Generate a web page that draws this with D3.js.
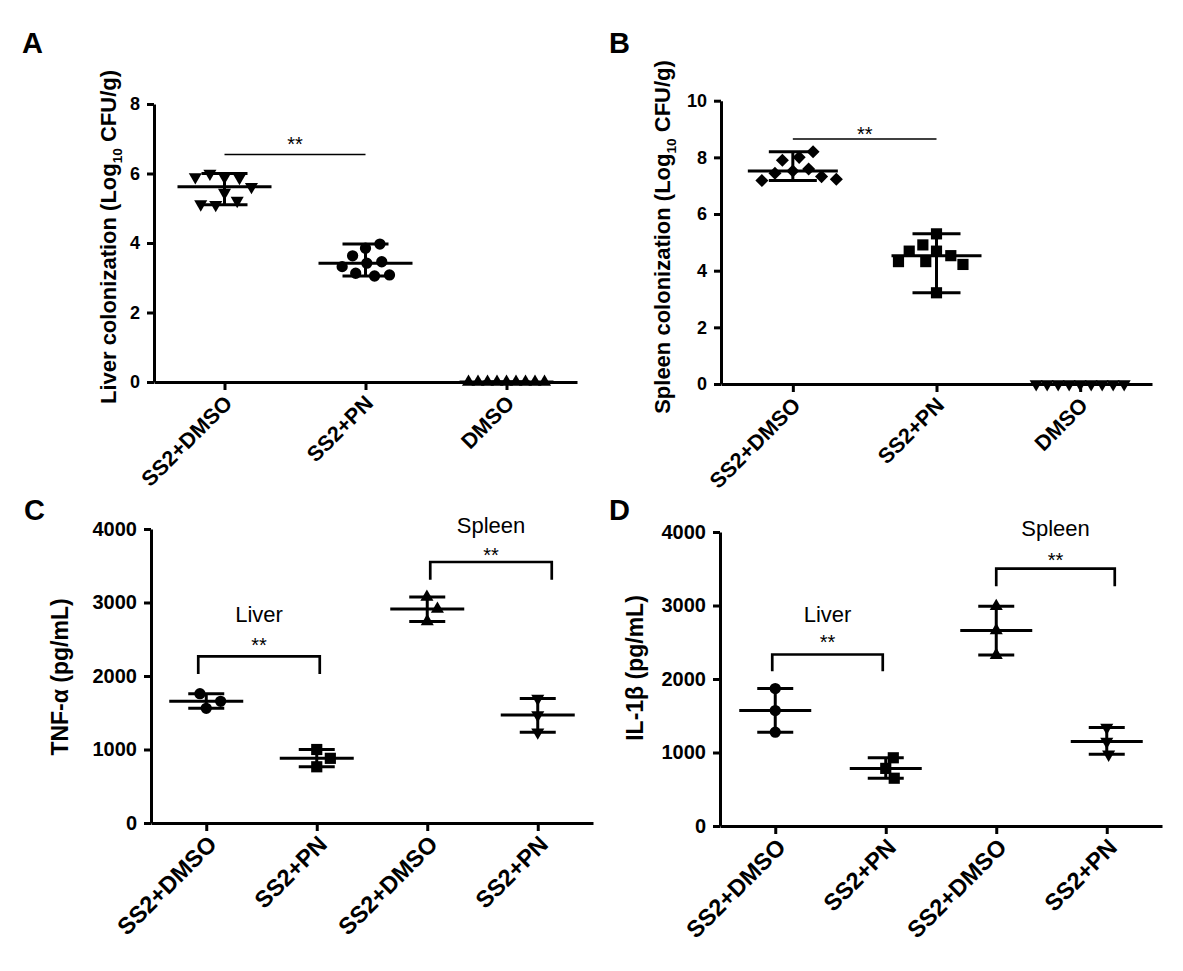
<!DOCTYPE html>
<html>
<head>
<meta charset="utf-8">
<script src="https://cdn.jsdelivr.net/npm/d3@7"></script>
<style>
  body { margin: 0; background: #fff; }
  text { font-family: Arial, "Liberation Sans", sans-serif; fill: #000; }
</style>
</head>
<body>
<svg id="fig" width="1183" height="971"></svg>
<script>
// ---- values ----
var colonGroups = ["SS2+DMSO", "SS2+PN", "DMSO"];
var liverCFU = [
    [5.90, 5.88, 6.00, 5.90, 5.62, 5.45, 5.22, 5.10, 5.12],
    [3.85, 3.97, 3.63, 3.42, 3.46, 3.32, 3.13, 3.05, 3.08],
    [0, 0, 0, 0, 0, 0, 0, 0, 0]
];
var spleenCFU = [
    [7.52, 8.00, 7.90, 8.20, 7.59, 7.44, 7.32, 7.18, 7.23],
    [4.69, 4.53, 4.91, 5.30, 4.69, 4.32, 4.22, 4.32, 3.22],
    [0, 0, 0, 0, 0, 0, 0, 0, 0]
];
var cytoGroups = ["SS2+DMSO", "SS2+PN", "SS2+DMSO", "SS2+PN"];
var tnfAlpha = [
    [1560, 1655, 1760],
    [765, 880, 1000],
    [2743, 2911, 3075],
    [1235, 1470, 1695]
];
var il1Beta = [
    [1277, 1570, 1870],
    [784, 650, 928],
    [2325, 2660, 2990],
    [1150, 975, 1340]
];
var liverTicks = [0, 2, 4, 6, 8];
var spleenTicks = [0, 2, 4, 6, 8, 10];
var cytoTicks = [0, 1000, 2000, 3000, 4000];

var svg = d3.select("#fig");

// marker shapes
var sym = {
    circle: { type: d3.symbolCircle, size: 100, rot: 0 },
    square: { type: d3.symbolSquare, size: 125, rot: 0 },
    diamond: { type: d3.symbolSquare, size: 85, rot: 45 },
    up: { type: d3.symbolTriangle, size: 74, rot: 0 },
    down: { type: d3.symbolTriangle, size: 74, rot: 180 }
};

// simple beeswarm: put each point as close to the centre as it can go
function swarm(vals, y, dist) {
    var placed = [];
    return vals.map(function(v) {
        var py = y(v);
        var cands = [0];
        placed.forEach(function(p) {
            var dy = Math.abs(p.y - py);
            if (dy < dist) {
                var dx = Math.sqrt(dist * dist - dy * dy);
                cands.push(p.x + dx, p.x - dx);
            }
        });
        cands.sort(function(a, b) { return Math.abs(a) - Math.abs(b) || b - a; });
        var best = cands.find(function(cx) {
            return placed.every(function(p) {
                return Math.hypot(p.x - cx, p.y - py) >= dist - 0.01;
            });
        });
        var pt = { x: best, y: py };
        placed.push(pt);
        return pt;
    });
}

function drawPanel(cfg) {
    var g = svg.append("g");

    var x = d3.scalePoint()
        .domain(d3.range(cfg.groups.length))
        .range([cfg.x0, cfg.x1])
        .padding(0.5);
    var y = d3.scaleLinear()
        .domain([0, cfg.yMax])
        .range([cfg.y0, cfg.yTop]);

    // Y axis
    var yAxis = g.append("g")
        .attr("transform", `translate(${cfg.x0},0)`)
        .call(d3.axisLeft(y).tickValues(cfg.ticks).tickFormat(d3.format("d"))
            .tickSize(7).tickSizeOuter(0).tickPadding(7));

    // X axis
    var xAxis = g.append("g")
        .attr("transform", `translate(0,${cfg.y0})`)
        .call(d3.axisBottom(x).tickSize(8).tickSizeOuter(0).tickFormat(function(i) { return cfg.groups[i]; }));

    [yAxis, xAxis].forEach(function(ax) {
        ax.select(".domain").attr("stroke", "#000").attr("stroke-width", 3);
        ax.selectAll(".tick line").attr("stroke", "#000").attr("stroke-width", 3);
    });
    yAxis.selectAll("text")
        .style("font-size", cfg.tickFont + "px")
        .style("font-weight", "bold");
    xAxis.selectAll("text")
        .attr("text-anchor", "end")
        .attr("transform", "rotate(-45)")
        .attr("x", cfg.labDx)
        .attr("y", cfg.labDy)
        .attr("dy", "0")
        .style("font-size", cfg.catFont + "px")
        .style("font-weight", "bold");

    // axis title
    var title = g.append("text")
        .attr("transform", `translate(${cfg.titleX},${cfg.titleY}) rotate(-90)`)
        .attr("text-anchor", "middle")
        .attr("dy", "0.35em")
        .style("font-size", cfg.titleFont + "px")
        .style("font-weight", "bold");
    cfg.title.forEach(function(part) {
        var t = title.append("tspan").text(part.t);
        if (part.sub) t.attr("dy", 6).style("font-size", (cfg.titleFont * 0.62) + "px");
        if (part.after) t.attr("dy", -6);
    });

    // panel letter
    g.append("text")
        .attr("x", cfg.letterX)
        .attr("y", cfg.letterY)
        .text(cfg.letter)
        .style("font-size", "29px")
        .style("font-weight", "bold");

    // points, median and range
    cfg.data.forEach(function(vals, i) {
        var cx = x(i);
        var pts = swarm(vals, y, cfg.dist[i]);
        var s = sym[cfg.shapes[i]];
        g.selectAll(null)
            .data(pts)
            .enter()
            .append("path")
            .attr("d", d3.symbol().type(s.type).size(s.size))
            .attr("transform", d => `translate(${cx + d.x},${d.y}) rotate(${s.rot})`)
            .attr("fill", "#000");

        var med = d3.median(vals);
        var ext = d3.extent(vals);
        var lines = [
            [cx - cfg.medW, y(med), cx + cfg.medW, y(med)],
            [cx - cfg.capW, y(ext[0]), cx + cfg.capW, y(ext[0])],
            [cx - cfg.capW, y(ext[1]), cx + cfg.capW, y(ext[1])],
            [cx, y(ext[0]), cx, y(ext[1])]
        ];
        g.selectAll(null)
            .data(lines)
            .enter()
            .append("line")
            .attr("x1", d => d[0]).attr("y1", d => d[1])
            .attr("x2", d => d[2]).attr("y2", d => d[3])
            .attr("stroke", "#000")
            .attr("stroke-width", 3);
    });

    // significance marks
    cfg.sig.forEach(function(s) {
        var xa = x(s.from) + (s.padL || 0), xb = x(s.to) + (s.padR || 0);
        var yt = y(s.top);
        if (s.legs != null) {
            var yl = y(s.legs);
            g.append("path")
                .attr("d", `M${xa},${yl}V${yt}H${xb}V${yl}`)
                .attr("fill", "none")
                .attr("stroke", "#000")
                .attr("stroke-width", 2.7);
        } else {
            g.append("line")
                .attr("x1", xa).attr("x2", xb)
                .attr("y1", yt).attr("y2", yt)
                .attr("stroke", "#000")
                .attr("stroke-width", 1.5);
        }
        g.append("text")
            .attr("x", (xa + xb) / 2)
            .attr("y", yt + s.starDy)
            .attr("text-anchor", "middle")
            .style("font-size", "20px")
            .text("**");
        if (s.label) {
            g.append("text")
                .attr("x", (xa + xb) / 2)
                .attr("y", yt + s.labelDy)
                .attr("text-anchor", "middle")
                .style("font-size", "22px")
                .text(s.label);
        }
    });
}

drawPanel({
    letter: "A", letterX: 22, letterY: 53,
    groups: colonGroups, data: liverCFU, shapes: ["down", "circle", "up"],
    x0: 154, x1: 577, y0: 382, yTop: 104, yMax: 8, ticks: liverTicks,
    tickFont: 18, catFont: 21.5, labDx: -10, labDy: 22,
    title: [{ t: "Liver colonization (Log" }, { t: "10", sub: true }, { t: " CFU/g)", after: true }],
    titleX: 108, titleY: 237, titleFont: 22,
    medW: 47, capW: 23, dist: [15, 15, 9.5],
    sig: [{ from: 0, to: 1, top: 6.55, starDy: -3 }]
});

drawPanel({
    letter: "B", letterX: 609, letterY: 53,
    groups: colonGroups, data: spleenCFU, shapes: ["diamond", "square", "down"],
    x0: 721, x1: 1152, y0: 384, yTop: 100.7, yMax: 10, ticks: spleenTicks,
    tickFont: 18, catFont: 21.5, labDx: -10, labDy: 22,
    title: [{ t: "Spleen colonization (Log" }, { t: "10", sub: true }, { t: " CFU/g)", after: true }],
    titleX: 662, titleY: 237, titleFont: 22,
    medW: 45, capW: 24, dist: [15, 15, 11],
    sig: [{ from: 0, to: 1, top: 8.65, starDy: 2 }]
});

drawPanel({
    letter: "C", letterX: 24, letterY: 520,
    groups: cytoGroups, data: tnfAlpha, shapes: ["circle", "square", "up", "down"],
    x0: 151, x1: 593, y0: 823, yTop: 529, yMax: 4000, ticks: cytoTicks,
    tickFont: 20, catFont: 23.5, labDx: -8, labDy: 24,
    title: [{ t: "TNF-α (pg/mL)" }],
    titleX: 60, titleY: 677, titleFont: 23,
    medW: 37, capW: 18, dist: [16, 16, 16, 16],
    sig: [
        { from: 0, to: 1, top: 2267, legs: 2027, padL: -8, padR: 3, starDy: -4, label: "Liver", labelDy: -34 },
        { from: 2, to: 3, top: 3551, legs: 3310, padL: 3, padR: 14, starDy: 0, label: "Spleen", labelDy: -29 }
    ]
});

drawPanel({
    letter: "D", letterX: 609, letterY: 520,
    groups: cytoGroups, data: il1Beta, shapes: ["circle", "square", "up", "down"],
    x0: 720, x1: 1162, y0: 826, yTop: 532, yMax: 4000, ticks: cytoTicks,
    tickFont: 20, catFont: 23.5, labDx: -8, labDy: 24,
    title: [{ t: "IL-1β (pg/mL)" }],
    titleX: 635, titleY: 668, titleFont: 23,
    medW: 36, capW: 18, dist: [13, 13, 13, 13],
    sig: [
        { from: 0, to: 1, top: 2333, legs: 2106, padL: -3, padR: -3, starDy: -6, label: "Liver", labelDy: -33 },
        { from: 2, to: 3, top: 3501, legs: 3261, padL: 0, padR: 8, starDy: -2, label: "Spleen", labelDy: -33 }
    ]
});
</script>
</body>
</html>
